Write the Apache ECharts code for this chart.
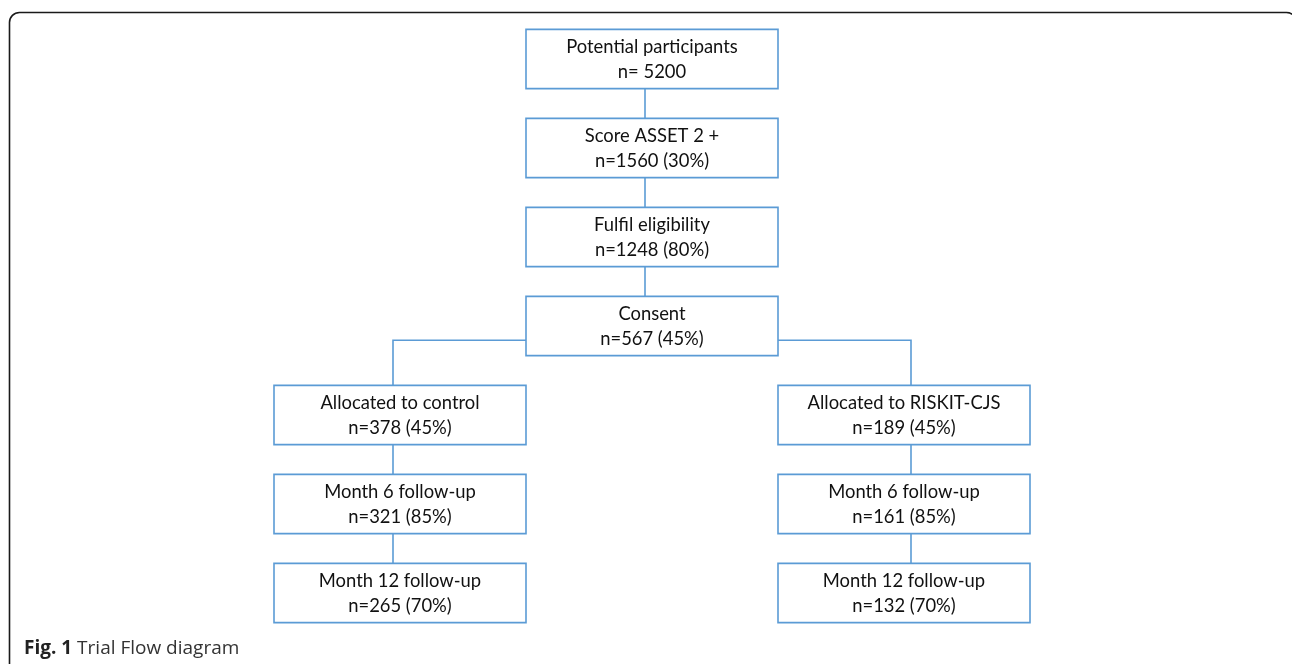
<!DOCTYPE html>
<html><head><meta charset="utf-8">
<script src="https://cdn.jsdelivr.net/npm/echarts@6/dist/echarts.min.js"></script>
<style>html,body{margin:0;padding:0;background:#fff}#c{width:1292px;height:664px}</style>
</head><body><div id="c"></div>
<script>
// Flow stages: label, count, percent
const stageTitles = ['Potential participants','Score ASSET 2 +','Fulfil eligibility','Consent',
  'Allocated to control','Month 6 follow-up','Month 12 follow-up',
  'Allocated to RISKIT-CJS','Month 6 follow-up','Month 12 follow-up'];
const stageN = [5200,1560,1248,567,378,321,265,189,161,132];
const stagePct = [null,30,80,45,45,85,70,45,85,70];
// column (-1 left, 0 centre, 1 right) and row of each stage in the flow
const stageCol = [0,0,0,0,-1,-1,-1,1,1,1];
const stageRow = [0,1,2,3,4,5,6,4,5,6];
// links between stages
const links = [[0,1],[1,2],[2,3],[3,4],[4,5],[5,6],[3,7],[7,8],[8,9]];

const BLUE = '#5B9BD5';
const FONT = 'Lato';
const boxData = stageTitles.map((t,i)=>[stageCol[i], stageRow[i], i]);
const linkData = links.map(l=>[l[0], l[1]]);
const BOXH = 0.665; // in row units

function boxText(i){
  const n = stageN[i];
  return stageTitles[i] + '\n' + (stagePct[i]==null ? 'n= ' + n : 'n=' + n + ' (' + stagePct[i] + '%)');
}

const chart = echarts.init(document.getElementById('c'));
chart.setOption({
  animation:false,
  title:{
    text:'{b|Fig. 1} Trial Flow diagram', left:24, top:639, padding:0,
    textStyle:{fontFamily:'Open Sans', fontSize:19, color:'#333', fontWeight:'normal',
      rich:{b:{fontFamily:'Open Sans', fontSize:19, fontWeight:'bold', color:'#222'}}}
  },
  graphic:[{type:'rect', shape:{x:9.5,y:12.5,width:1287,height:720,r:10}, silent:true,
    style:{fill:'none', stroke:'#1a1a1a', lineWidth:1.6}}],
  grid:{left:274, top:14.5, width:756, height:623},
  xAxis:{type:'value', min:-1.5, max:1.5, show:false},
  yAxis:{type:'value', min:-0.5, max:6.5, inverse:true, show:false},
  series:[
    {type:'custom', coordinateSystem:'cartesian2d', data:linkData, z:1,
     renderItem:function(params, api){
       const a = api.value(0), b = api.value(1);
       const ca = stageCol[a], ra = stageRow[a], cb = stageCol[b], rb = stageRow[b];
       const off = (cb>0 ? 7 : -7);
       const style = {stroke:BLUE, lineWidth:1.6, fill:'none'};
       if (ca === cb){
         const p1 = api.coord([ca, ra + BOXH/2]);
         const p2 = api.coord([cb, rb - BOXH/2]);
         return {type:'polyline', shape:{points:[[p1[0]+off,p1[1]],[p2[0]+off,p2[1]]]}, style:style};
       }
       const side = cb > ca ? 0.5 : -0.5;
       const s = api.coord([ca + side, ra + 0.16]);
       const t = api.coord([cb, rb - BOXH/2]);
       return {type:'polyline', shape:{points:[[s[0],s[1]],[t[0]+off,s[1]],[t[0]+off,t[1]]]}, style:style};
     }},
    {type:'custom', coordinateSystem:'cartesian2d', data:boxData, z:2,
     renderItem:function(params, api){
       const c = api.value(0), r = api.value(1), i = api.value(2);
       const p0 = api.coord([c-0.5, r-BOXH/2]);
       const p1 = api.coord([c+0.5, r+BOXH/2]);
       const ctr = api.coord([c, r]);
       return {type:'group', children:[
         {type:'rect', shape:{x:p0[0], y:p0[1], width:p1[0]-p0[0], height:p1[1]-p0[1]},
          style:{fill:'#fff', stroke:BLUE, lineWidth:1.6}},
         {type:'text', x:ctr[0], y:ctr[1]+1, style:{text:boxText(i), align:'center', verticalAlign:'middle',
          fontFamily:FONT, fontSize:18.4, lineHeight:25, fill:'#111'}}
       ]};
     }}
  ]
});
</script></body></html>
